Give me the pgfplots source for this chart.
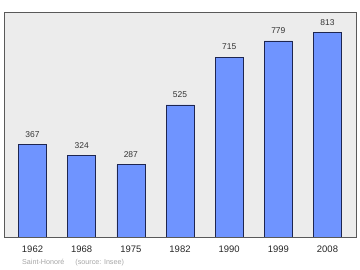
\documentclass[border=0pt]{standalone}
\usepackage{fontspec}
\setmainfont{Liberation Sans}
\usepackage{pgfplots}
\pgfplotsset{compat=1.18}
\definecolor{barfill}{RGB}{111,148,255}
\definecolor{bardraw}{RGB}{30,38,80}
\definecolor{bgc}{RGB}{236,236,236}
\begin{document}
\begin{tikzpicture}[x=1bp,y=1bp]
\path[use as bounding box] (0,0) rectangle (360,270);
\begin{axis}[
  at={(4bp,33bp)}, anchor=south west,
  scale only axis, width=352bp, height=225bp,
  xmin=-0.58, xmax=6.58, ymin=0, ymax=894,
  axis background/.style={fill=bgc},
  axis line style={draw=black!65, line width=0.9pt},
  ytick=\empty,
  xtick=data,
  xticklabels={1962,1968,1975,1982,1990,1999,2008},
  major tick length=0pt,
  xticklabel style={font=\fontsize{9.5}{11}\selectfont, text=black!85, yshift=-5bp},
  /pgf/number format/assume math mode=true,
  ybar, bar width=28bp,
  nodes near coords,
  every node near coord/.append style={font=\fontsize{8.5}{9.5}\selectfont, text=black!80, yshift=3.5bp},
]
\addplot[fill=barfill, draw=bardraw, line width=0.6pt] coordinates {
(0,367) (1,324) (2,287) (3,525) (4,715) (5,779) (6,813)};
\end{axis}
\node[anchor=west, text=black!35, font=\fontsize{7.2}{8}\selectfont, inner sep=0pt] at (22,7) {Saint-Honoré\hspace{11bp}(source: Insee)};
\end{tikzpicture}
\end{document}
